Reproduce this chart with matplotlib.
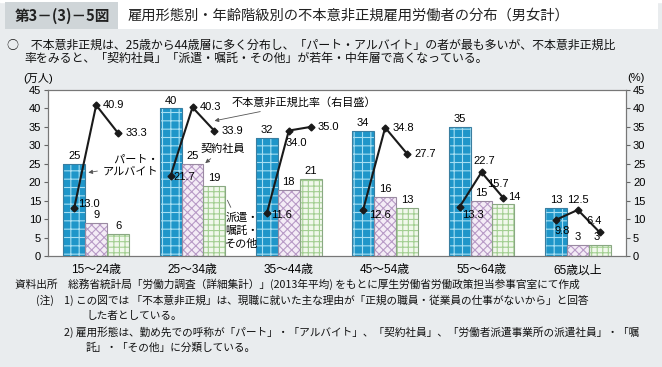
import numpy as np
import matplotlib.pyplot as plt
from matplotlib.patches import Rectangle

plt.rcParams['font.family'] = ['Liberation Sans', 'Noto Sans CJK JP']
plt.rcParams['hatch.linewidth'] = 0.8

# データ
groups = ['15～24歳', '25～34歳', '35～44歳', '45～54歳', '55～64歳', '65歳以上']
part = [25, 40, 32, 34, 35, 13]        # パート・アルバイト（万人）
contract = [9, 25, 18, 16, 15, 3]      # 契約社員
dispatch = [6, 19, 21, 13, 14, 3]      # 派遣・嘱託・その他
rate_part = [13.0, 21.7, 11.6, 12.6, 13.3, 9.8]      # 不本意非正規比率（%）
rate_contract = [40.9, 40.3, 34.0, 34.8, 22.7, 12.5]
rate_dispatch = [33.3, 33.9, 35.0, 27.7, 15.7, 6.4]

W, H = 662, 367
fig = plt.figure(figsize=(W / 100, H / 100), dpi=100)
fig.patch.set_facecolor('#e9ecee')

def fx(px):
    return px / W

def fy(py):
    return 1 - py / H

# ヘッダー
fig.patches.append(Rectangle((0, fy(2)), 1, 2 / H, transform=fig.transFigure, color='white', zorder=0))
fig.patches.append(Rectangle((fx(5), fy(29)), fx(113), 27 / H, transform=fig.transFigure,
                             facecolor='#cfd5d8', edgecolor='none', zorder=1))
fig.patches.append(Rectangle((fx(118), fy(29)), fx(540), 27 / H, transform=fig.transFigure,
                             facecolor='white', edgecolor='none', zorder=1))
fig.text(fx(62), fy(16), '第3－(3)－5図', ha='center', va='center', fontsize=10.5,
         fontweight='bold', color='#222222', family=['Noto Sans CJK JP'])
fig.text(fx(128), fy(16), '雇用形態別・年齢階級別の不本意非正規雇用労働者の分布（男女計）',
         ha='left', va='center', fontsize=10.3, color='#222222', family=['Noto Sans CJK JP'])

body_font = ['Noto Sans CJK JP', 'DejaVu Sans']
fig.text(fx(7), fy(45), '○　不本意非正規は、25歳から44歳層に多く分布し、「パート・アルバイト」の者が最も多いが、不本意非正規比',
         ha='left', va='center', fontsize=8.6, color='#111111', family=body_font)
fig.text(fx(24), fy(58), '率をみると、「契約社員」「派遣・嘱託・その他」が若年・中年層で高くなっている。',
         ha='left', va='center', fontsize=8.6, color='#111111', family=body_font)

# グラフ
ax = fig.add_axes([fx(48), fy(256), fx(578), (256 - 90) / H])
ax.set_facecolor('white')
x = np.arange(len(groups))
bw = 0.228

def hatched_bars(xpos, vals, face, hcolor, hatch, ecolor):
    ax.bar(xpos, vals, bw, color=face, edgecolor=hcolor, hatch=hatch, linewidth=0, zorder=2)
    ax.bar(xpos, vals, bw, fill=False, edgecolor=ecolor, linewidth=0.8, zorder=3)

hatched_bars(x - bw, part, '#1f96c9', '#a6def2', '++', '#3a7ea0')
hatched_bars(x, contract, '#f4ecf6', '#b89ac6', 'xxxx', '#9a8aa2')
hatched_bars(x + bw, dispatch, '#f1f8ec', '#a3cf92', '+++', '#8aa883')

ax.set_xlim(-0.5, 5.5)
ax.set_ylim(0, 45)
ax.set_yticks(range(0, 46, 5))
ax.set_xticks(x)
ax.set_xticklabels(groups, fontsize=8.5)
ax.tick_params(axis='x', length=0, pad=6)
ax.tick_params(axis='y', labelsize=8, length=3, color='#666666', pad=2)
for s in ax.spines.values():
    s.set_color('#777777')
    s.set_linewidth(0.8)

ax2 = ax.twinx()
ax2.set_ylim(0, 45)
ax2.set_yticks(range(0, 46, 5))
ax2.tick_params(axis='y', labelsize=8, length=3, color='#666666', pad=2)
for s in ax2.spines.values():
    s.set_color('#777777')
    s.set_linewidth(0.8)

# 比率の折れ線（グループごと）
offs_part = [(3, 3), (2, -1), (3, -1), (4, -4), (2, -6), (-1, -8)]
offs_con = [(5, 0), (5, 0), (-2, -9), (5, 0), (-6, 8), (-8, 7)]
offs_dis = [(5, 0), (5, 0), (5, 0), (5, 0), (-12, 10), (-10, 8)]
for i in range(len(groups)):
    xs = [x[i] - bw, x[i], x[i] + bw]
    ys = [rate_part[i], rate_contract[i], rate_dispatch[i]]
    ax2.plot(xs, ys, color='#1a1a1a', lw=1.5, marker='D', ms=3.5, zorder=5)
    for xv, yv, off in zip(xs, ys, [offs_part[i], offs_con[i], offs_dis[i]]):
        ax2.annotate(f'{yv:.1f}', (xv, yv), xytext=off, textcoords='offset points',
                     ha='left', va='center', fontsize=8, zorder=6)

# 棒の値
for i in range(len(groups)):
    ax.annotate(str(part[i]), (x[i] - bw, part[i]), xytext=(0, 2), textcoords='offset points',
                ha='center', va='bottom', fontsize=8)
    ax.annotate(str(contract[i]), (x[i], contract[i]), xytext=(0, 2), textcoords='offset points',
                ha='center', va='bottom', fontsize=8)
    dx = 8 if i == 4 else (-2 if i == 5 else 0)
    ax.annotate(str(dispatch[i]), (x[i] + bw, dispatch[i]), xytext=(dx, 2), textcoords='offset points',
                ha='center', va='bottom', fontsize=8)

# 注記
arrow = dict(arrowstyle='-|>', color='#555555', lw=0.6, mutation_scale=6)
ax.annotate('　パート・\nアルバイト', xy=(-0.11, 22.5), xytext=(0.07, 24.5), fontsize=8,
            ha='left', va='center', linespacing=1.3, arrowprops=arrow)
ax.annotate('契約社員', xy=(1.11, 24.7), xytext=(1.08, 29), fontsize=8,
            ha='left', va='center', arrowprops=arrow)
ax.annotate('派遣・\n嘱託・\nその他', xy=(1.35, 15.8), xytext=(1.34, 6.8), fontsize=8,
            ha='left', va='center', linespacing=1.35,
            arrowprops=dict(arrowstyle='-', color='#555555', lw=0.6))
ax.annotate('不本意非正規比率（右目盛）', xy=(1.2, 36.5), xytext=(1.4, 41.5), fontsize=8,
            ha='left', va='center', arrowprops=arrow)

fig.text(fx(23), fy(78), '(万人)', ha='left', va='center', fontsize=8)
fig.text(fx(627), fy(78), '(%)', ha='left', va='center', fontsize=8)

# 出所・注
foot = [
    (15, 284, '資料出所　総務省統計局「労働力調査（詳細集計）」(2013年平均) をもとに厚生労働省労働政策担当参事官室にて作成'),
    (36, 300, '(注)'),
    (64, 300, '1) この図では 「不本意非正規」は、現職に就いた主な理由が「正規の職員・従業員の仕事がないから」と回答'),
    (86, 316, 'した者としている。'),
    (64, 332, '2) 雇用形態は、勤め先での呼称が「パート」・「アルバイト」、「契約社員」、「労働者派遣事業所の派遣社員」・「嘱'),
    (86, 348, '託」・「その他」に分類している。'),
]
for px, py, t in foot:
    fig.text(fx(px), fy(py), t, ha='left', va='center', fontsize=7.7, color='#111111',
             family=body_font)

fig.savefig('out.png', dpi=100, facecolor=fig.get_facecolor())
